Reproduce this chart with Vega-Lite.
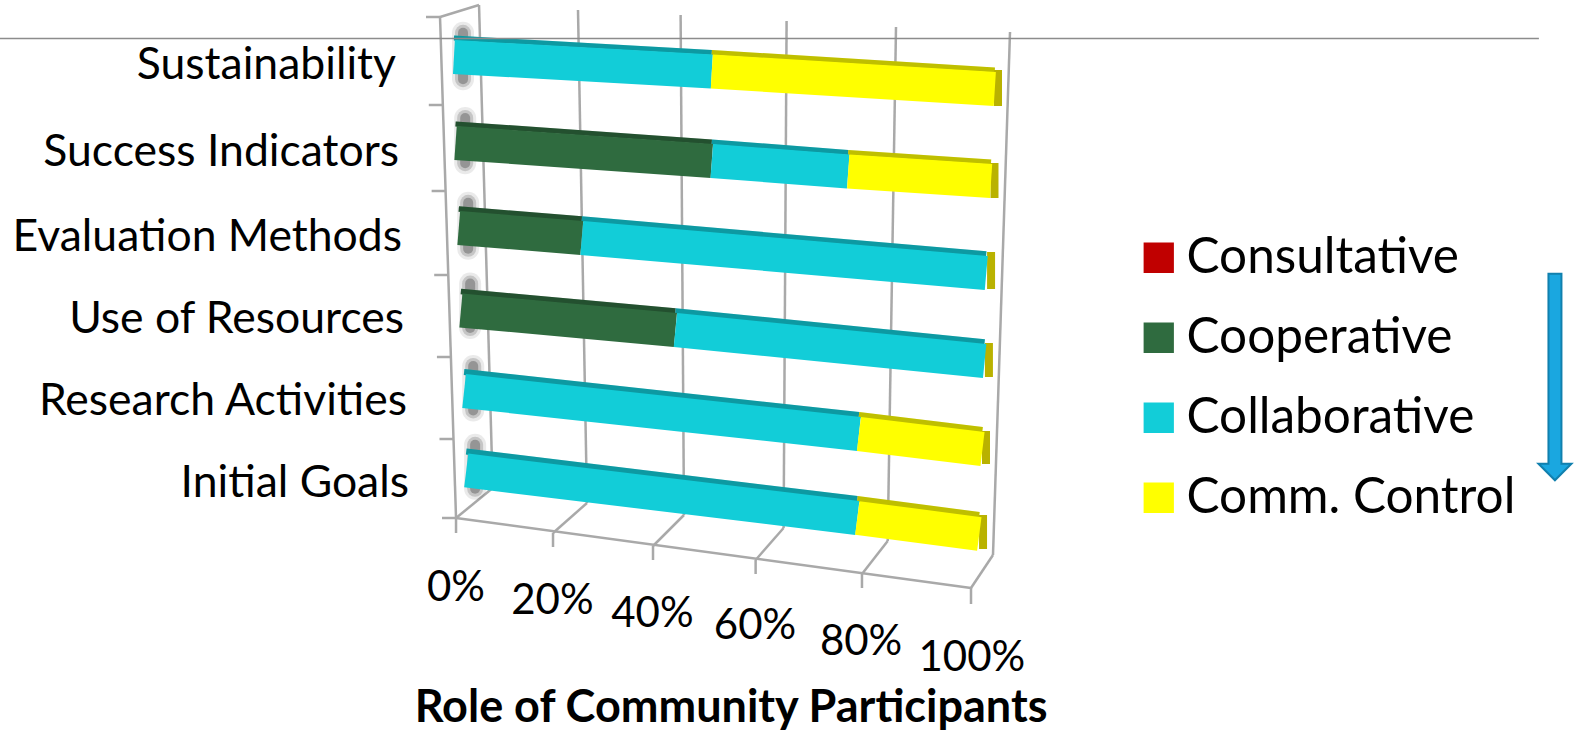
{
  "$schema": "https://vega.github.io/schema/vega-lite/v6.json",
  "width": 1581,
  "height": 732,
  "autosize": "none",
  "padding": 0,
  "background": "#ffffff",
  "config": {"view": {"stroke": null}, "font": "Lato"},
  "datasets": {
    "bars": [
      {"task": "Sustainability", "series": "Collaborative", "start": -0.2, "end": 48, "yStart": 7.125, "yEnd": 8.94},
      {"task": "Sustainability", "series": "Comm. Control", "start": 48, "end": 100.9, "yStart": 8.94, "yEnd": 11.125},
      {"task": "Success Indicators", "series": "Cooperative", "start": 0.1, "end": 48, "yStart": 17.875, "yEnd": 20.125},
      {"task": "Success Indicators", "series": "Collaborative", "start": 48, "end": 73.5, "yStart": 20.125, "yEnd": 21.44},
      {"task": "Success Indicators", "series": "Comm. Control", "start": 73.5, "end": 100.2, "yStart": 21.44, "yEnd": 22.625},
      {"task": "Evaluation Methods", "series": "Cooperative", "start": 0.7, "end": 23.7, "yStart": 28.5, "yEnd": 29.75},
      {"task": "Evaluation Methods", "series": "Collaborative", "start": 23.7, "end": 99.3, "yStart": 29.75, "yEnd": 34.125},
      {"task": "Use of Resources", "series": "Cooperative", "start": 1.1, "end": 41.2, "yStart": 38.81, "yEnd": 41.25},
      {"task": "Use of Resources", "series": "Collaborative", "start": 41.2, "end": 99, "yStart": 41.25, "yEnd": 45.125},
      {"task": "Research Activities", "series": "Collaborative", "start": 1.7, "end": 75.5, "yStart": 48.875, "yEnd": 54.25},
      {"task": "Research Activities", "series": "Comm. Control", "start": 75.5, "end": 98.6, "yStart": 54.25, "yEnd": 56.125},
      {"task": "Initial Goals", "series": "Collaborative", "start": 2.1, "end": 75.2, "yStart": 58.81, "yEnd": 64.75},
      {"task": "Initial Goals", "series": "Comm. Control", "start": 75.2, "end": 98, "yStart": 64.75, "yEnd": 66.75}
    ],
    "frame": [
      {"x0": 4.49, "x1": 7.05, "y0": 0.625, "y1": 61},
      {"x0": 22.99, "x1": 24.67, "y0": 1.25, "y1": 62.875},
      {"x0": 42.17, "x1": 42.8, "y0": 1.875, "y1": 64.375},
      {"x0": 61.98, "x1": 61.42, "y0": 2.625, "y1": 66},
      {"x0": 82.43, "x1": 80.88, "y0": 3.375, "y1": 67.625},
      {"x0": 103.74, "x1": 100.56, "y0": 4, "y1": 69.375},
      {"x0": 7.05, "x1": 0.19, "y0": 61, "y1": 64.75},
      {"x0": 24.67, "x1": 18.32, "y0": 62.875, "y1": 66.625},
      {"x0": 42.8, "x1": 37.01, "y0": 64.375, "y1": 68.25},
      {"x0": 61.42, "x1": 56.19, "y0": 66, "y1": 70},
      {"x0": 80.88, "x1": 76.07, "y0": 67.625, "y1": 71.75},
      {"x0": 100.56, "x1": 96.45, "y0": 69.375, "y1": 73.5},
      {"x0": 0.19, "x1": 96.45, "y0": 64.75, "y1": 73.5},
      {"x0": 0.19, "x1": 0.19, "y0": 64.75, "y1": 66.625},
      {"x0": 18.32, "x1": 18.32, "y0": 66.625, "y1": 68.375},
      {"x0": 37.01, "x1": 37.01, "y0": 68.25, "y1": 70},
      {"x0": 56.19, "x1": 56.19, "y0": 70, "y1": 71.75},
      {"x0": 76.07, "x1": 76.07, "y0": 71.75, "y1": 73.5},
      {"x0": 96.45, "x1": 96.45, "y0": 73.5, "y1": 75.5},
      {"x0": -2.8, "x1": 0.19, "y0": 2.125, "y1": 64.75},
      {"x0": -2.8, "x1": 4.49, "y0": 2.125, "y1": 0.625},
      {"x0": -5.42, "x1": -2.8, "y0": 2.125, "y1": 2.125},
      {"x0": -4.9, "x1": -2.28, "y0": 13.125, "y1": 13.125},
      {"x0": -4.37, "x1": -1.76, "y0": 23.875, "y1": 23.875},
      {"x0": -3.89, "x1": -1.27, "y0": 34.375, "y1": 34.375},
      {"x0": -3.38, "x1": -0.77, "y0": 44.625, "y1": 44.625},
      {"x0": -2.9, "x1": -0.28, "y0": 54.875, "y1": 54.875},
      {"x0": -2.43, "x1": 0.19, "y0": 64.75, "y1": 64.75}
    ],
    "shadows": [
      {"x": 1.5, "y0": 4.1, "y1": 9.9},
      {"x": 1.9, "y0": 14.75, "y1": 20.4},
      {"x": 2.46, "y0": 25.35, "y1": 31.1},
      {"x": 2.83, "y0": 35.45, "y1": 41},
      {"x": 3.4, "y0": 45.75, "y1": 51.3},
      {"x": 3.76, "y0": 55.6, "y1": 61.1}
    ],
    "caps": [
      {"x": 101.5, "y0": 8.75, "y1": 13.25},
      {"x": 100.84, "y0": 20.375, "y1": 24.75},
      {"x": 100.2, "y0": 31.5, "y1": 36.125},
      {"x": 99.8, "y0": 42.875, "y1": 47.125},
      {"x": 99.25, "y0": 53.875, "y1": 58},
      {"x": 98.7, "y0": 64.375, "y1": 68.625}
    ],
    "categories": [
      {"label": "Sustainability", "x": -11.03, "y": 8.3},
      {"label": "Success Indicators", "x": -10.47, "y": 19.1},
      {"label": "Evaluation Methods", "x": -9.9, "y": 29.75},
      {"label": "Use of Resources", "x": -9.53, "y": 40.05},
      {"label": "Research Activities", "x": -8.97, "y": 50.25},
      {"label": "Initial Goals", "x": -8.6, "y": 60.5}
    ],
    "ticks": [
      {"label": "0%", "x": 0.19, "y": 73.5},
      {"label": "20%", "x": 18.2, "y": 75.1},
      {"label": "40%", "x": 36.9, "y": 76.7},
      {"label": "60%", "x": 56.07, "y": 78.3},
      {"label": "80%", "x": 75.9, "y": 80.3},
      {"label": "100%", "x": 96.6, "y": 82.3}
    ]
  },
  "layer": [
    {
      "data": {"name": "frame"},
      "mark": {"type": "rule", "color": "#a9a9a9", "strokeWidth": 2.5},
      "encoding": {
        "x": {"field": "x0", "type": "quantitative", "scale": {"domain": [-85.05, 210.47], "nice": false, "zero": false}, "axis": null},
        "x2": {"field": "x1"},
        "y": {"field": "y0", "type": "quantitative", "scale": {"domain": [91.5, 0], "nice": false, "zero": false}, "axis": null},
        "y2": {"field": "y1"}
      }
    },
    {
      "data": {"name": "shadows"},
      "mark": {"type": "rule", "color": "#333333", "strokeWidth": 22, "opacity": 0.1, "strokeCap": "round"},
      "encoding": {
        "x": {"field": "x", "type": "quantitative", "scale": {"domain": [-85.05, 210.47], "nice": false, "zero": false}, "axis": null},
        "y": {"field": "y0", "type": "quantitative", "scale": {"domain": [91.5, 0], "nice": false, "zero": false}, "axis": null},
        "y2": {"field": "y1"}
      }
    },
    {
      "data": {"name": "shadows"},
      "mark": {"type": "rule", "color": "#333333", "strokeWidth": 16, "opacity": 0.2, "strokeCap": "round"},
      "encoding": {
        "x": {"field": "x", "type": "quantitative", "scale": {"domain": [-85.05, 210.47], "nice": false, "zero": false}, "axis": null},
        "y": {"field": "y0", "type": "quantitative", "scale": {"domain": [91.5, 0], "nice": false, "zero": false}, "axis": null},
        "y2": {"field": "y1"}
      }
    },
    {
      "data": {"name": "shadows"},
      "mark": {"type": "rule", "color": "#333333", "strokeWidth": 10, "opacity": 0.32, "strokeCap": "round"},
      "encoding": {
        "x": {"field": "x", "type": "quantitative", "scale": {"domain": [-85.05, 210.47], "nice": false, "zero": false}, "axis": null},
        "y": {"field": "y0", "type": "quantitative", "scale": {"domain": [91.5, 0], "nice": false, "zero": false}, "axis": null},
        "y2": {"field": "y1"}
      }
    },
    {
      "data": {"name": "bars"},
      "mark": {"type": "rule", "yOffset": -19, "y2Offset": -19},
      "encoding": {
        "x": {"field": "start", "type": "quantitative", "scale": {"domain": [-85.05, 210.47], "nice": false, "zero": false}, "axis": null},
        "x2": {"field": "end"},
        "y": {"field": "yStart", "type": "quantitative", "scale": {"domain": [91.5, 0], "nice": false, "zero": false}, "axis": null},
        "y2": {"field": "yEnd"},
        "size": {"field": "task", "type": "ordinal", "scale": {"domain": ["Sustainability", "Success Indicators", "Evaluation Methods", "Use of Resources", "Research Activities", "Initial Goals"], "range": [5, 6, 8, 9, 10, 11]}, "legend": null},
        "color": {
          "field": "series",
          "type": "nominal",
          "scale": {"domain": ["Consultative", "Cooperative", "Collaborative", "Comm. Control"], "range": ["#c00000", "#2f6b3f", "#12cdd8", "#ffff00"]},
          "legend": {
            "title": null,
            "orient": "none",
            "legendX": 1134,
            "legendY": 233,
            "symbolType": "square",
            "symbolSize": 800,
            "symbolStrokeColor": "#8aa09a",
            "symbolStrokeWidth": 2,
            "labelFontSize": 49.5,
            "labelFont": "Lato",
            "labelColor": "#000000",
            "labelOffset": 3,
            "rowPadding": 29,
            "labelLimit": 400,
            "encode": {
              "symbols": {
                "update": {
                  "fill": {"scale": "color", "field": "value"},
                  "fillOpacity": {"value": 1},
                  "stroke": {"value": "#8aa09a"},
                  "strokeWidth": {"value": 2},
                  "opacity": {"value": 1}
                }
              }
            }
          }
        }
      }
    },
    {
      "data": {"name": "bars"},
      "mark": {"type": "rule", "yOffset": -19, "y2Offset": -19, "color": "#000000", "opacity": 0.25},
      "encoding": {
        "x": {"field": "start", "type": "quantitative", "scale": {"domain": [-85.05, 210.47], "nice": false, "zero": false}, "axis": null},
        "x2": {"field": "end"},
        "y": {"field": "yStart", "type": "quantitative", "scale": {"domain": [91.5, 0], "nice": false, "zero": false}, "axis": null},
        "y2": {"field": "yEnd"},
        "size": {"field": "task", "type": "ordinal", "scale": {"domain": ["Sustainability", "Success Indicators", "Evaluation Methods", "Use of Resources", "Research Activities", "Initial Goals"], "range": [5, 6, 8, 9, 10, 11]}, "legend": null}
      }
    },
    {
      "data": {"name": "caps"},
      "mark": {"type": "rule", "color": "#b9b200", "strokeWidth": 8},
      "encoding": {
        "x": {"field": "x", "type": "quantitative", "scale": {"domain": [-85.05, 210.47], "nice": false, "zero": false}, "axis": null},
        "y": {"field": "y0", "type": "quantitative", "scale": {"domain": [91.5, 0], "nice": false, "zero": false}, "axis": null},
        "y2": {"field": "y1"}
      }
    },
    {
      "data": {"name": "bars"},
      "mark": {"type": "rule", "strokeWidth": 34},
      "encoding": {
        "x": {"field": "start", "type": "quantitative", "scale": {"domain": [-85.05, 210.47], "nice": false, "zero": false}, "axis": null},
        "x2": {"field": "end"},
        "y": {"field": "yStart", "type": "quantitative", "scale": {"domain": [91.5, 0], "nice": false, "zero": false}, "axis": null},
        "y2": {"field": "yEnd"},
        "color": {
          "field": "series",
          "type": "nominal",
          "scale": {"domain": ["Consultative", "Cooperative", "Collaborative", "Comm. Control"], "range": ["#c00000", "#2f6b3f", "#12cdd8", "#ffff00"]}
        }
      }
    },
    {
      "data": {"name": "categories"},
      "mark": {"type": "text", "align": "right", "baseline": "middle", "fontSize": 44.5, "font": "Lato", "color": "#000000"},
      "encoding": {
        "x": {"field": "x", "type": "quantitative", "scale": {"domain": [-85.05, 210.47], "nice": false, "zero": false}, "axis": null},
        "y": {"field": "y", "type": "quantitative", "scale": {"domain": [91.5, 0], "nice": false, "zero": false}, "axis": null},
        "text": {"field": "label"}
      }
    },
    {
      "data": {"name": "ticks"},
      "mark": {"type": "text", "align": "center", "baseline": "middle", "fontSize": 42, "font": "Lato", "color": "#000000"},
      "encoding": {
        "x": {"field": "x", "type": "quantitative", "scale": {"domain": [-85.05, 210.47], "nice": false, "zero": false}, "axis": null},
        "y": {"field": "y", "type": "quantitative", "scale": {"domain": [91.5, 0], "nice": false, "zero": false}, "axis": null},
        "text": {"field": "label"}
      }
    },
    {
      "data": {"values": [{"label": "Role of Community Participants", "x": 51.6, "y": 88.5}]},
      "mark": {"type": "text", "align": "center", "baseline": "middle", "fontSize": 45, "fontWeight": "bold", "font": "Lato", "color": "#000000"},
      "encoding": {
        "x": {"field": "x", "type": "quantitative", "scale": {"domain": [-85.05, 210.47], "nice": false, "zero": false}, "axis": null},
        "y": {"field": "y", "type": "quantitative", "scale": {"domain": [91.5, 0], "nice": false, "zero": false}, "axis": null},
        "text": {"field": "label"}
      }
    },
    {
      "data": {"values": [{"x0": -85.05, "x1": 202.6, "y": 4.825}]},
      "mark": {"type": "rule", "color": "#8c8c8c", "strokeWidth": 1.5},
      "encoding": {
        "x": {"field": "x0", "type": "quantitative", "scale": {"domain": [-85.05, 210.47], "nice": false, "zero": false}, "axis": null},
        "x2": {"field": "x1"},
        "y": {"field": "y", "type": "quantitative", "scale": {"domain": [91.5, 0], "nice": false, "zero": false}, "axis": null}
      }
    },
    {
      "data": {"values": [{"x": 205.6, "y0": 34.1, "y1": 58.5}]},
      "mark": {"type": "rule", "color": "#1180ae", "strokeWidth": 15},
      "encoding": {
        "x": {"field": "x", "type": "quantitative", "scale": {"domain": [-85.05, 210.47], "nice": false, "zero": false}, "axis": null},
        "y": {"field": "y0", "type": "quantitative", "scale": {"domain": [91.5, 0], "nice": false, "zero": false}, "axis": null},
        "y2": {"field": "y1"}
      }
    },
    {
      "data": {"values": [{"x": 205.6, "y": 59}]},
      "mark": {"type": "point", "shape": "M-1,-0.5L1,-0.5L0,0.5Z", "size": 1089, "filled": true, "fill": "#1aa7e0", "stroke": "#1180ae", "strokeWidth": 2, "opacity": 1},
      "encoding": {
        "x": {"field": "x", "type": "quantitative", "scale": {"domain": [-85.05, 210.47], "nice": false, "zero": false}, "axis": null},
        "y": {"field": "y", "type": "quantitative", "scale": {"domain": [91.5, 0], "nice": false, "zero": false}, "axis": null}
      }
    },
    {
      "data": {"values": [{"x": 205.6, "y0": 34.35, "y1": 59}]},
      "mark": {"type": "rule", "color": "#1aa7e0", "strokeWidth": 11},
      "encoding": {
        "x": {"field": "x", "type": "quantitative", "scale": {"domain": [-85.05, 210.47], "nice": false, "zero": false}, "axis": null},
        "y": {"field": "y0", "type": "quantitative", "scale": {"domain": [91.5, 0], "nice": false, "zero": false}, "axis": null},
        "y2": {"field": "y1"}
      }
    }
  ]
}
